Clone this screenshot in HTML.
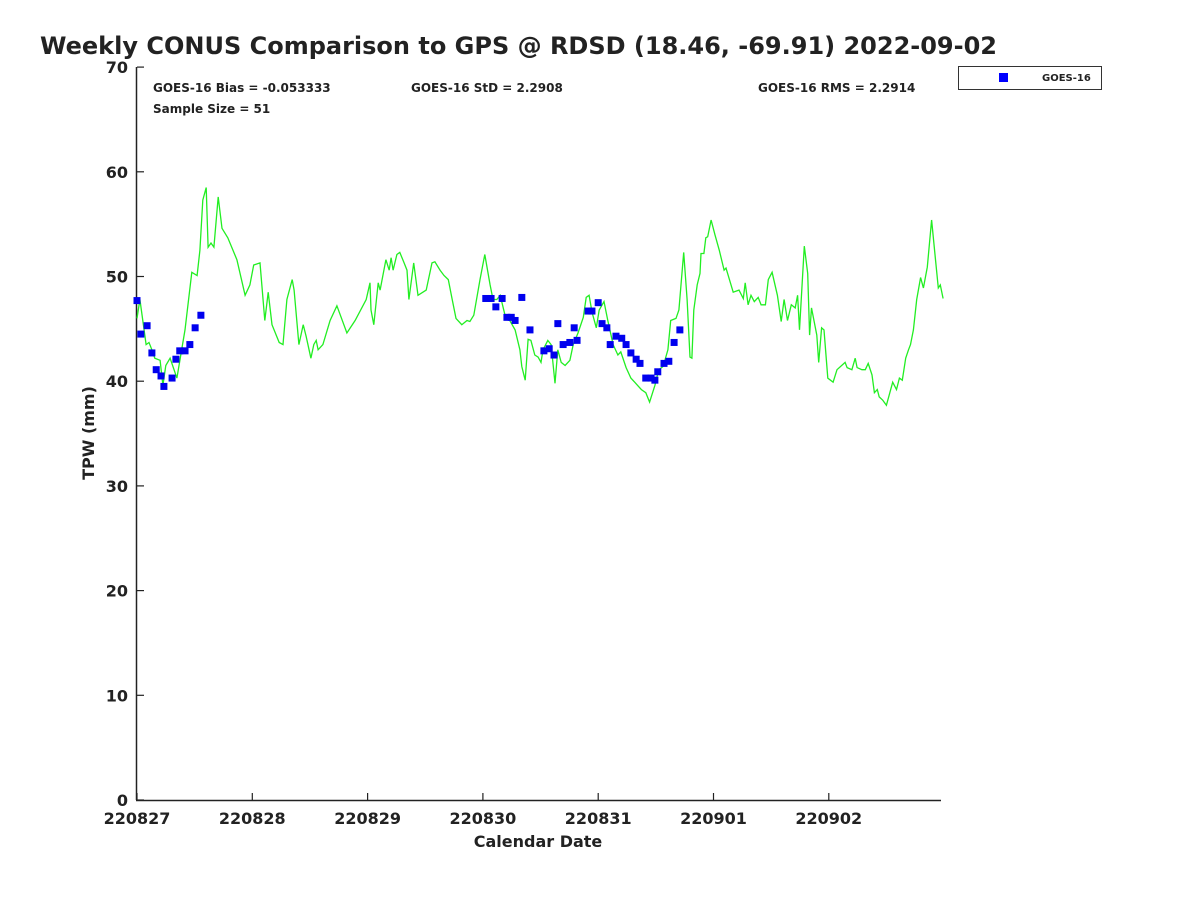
<!DOCTYPE html>
<html><head><meta charset="utf-8"><style>
body{margin:0;background:#fff;}
svg text{font-family:"DejaVu Sans","Liberation Sans",sans-serif;font-weight:bold;fill:#222;}
</style></head><body>
<svg id="c" width="1200" height="900" xmlns="http://www.w3.org/2000/svg">
<text x="40" y="54" font-size="24" fill="#000">Weekly CONUS Comparison to GPS @ RDSD (18.46, -69.91) 2022-09-02</text>
<text x="153" y="92" font-size="12">GOES-16 Bias = -0.053333</text>
<text x="411" y="92" font-size="12">GOES-16 StD = 2.2908</text>
<text x="758" y="92" font-size="12">GOES-16 RMS = 2.2914</text>
<text x="153" y="113" font-size="12">Sample Size = 51</text>
<g>
<rect x="958.5" y="66.5" width="143" height="23" fill="#fff" stroke="#333"/>
<rect x="999" y="73" width="9" height="9" fill="#0000ff"/>
<text x="1042" y="81" font-size="10">GOES-16</text>
</g>
<text transform="translate(94,433) rotate(-90)" text-anchor="middle" font-size="16">TPW (mm)</text>
<text x="538" y="847" text-anchor="middle" font-size="16">Calendar Date</text>
<g id="axes"></g>
<g id="marks"></g>
</svg>
<script>
const yTicks=[0,10,20,30,40,50,60,70];
const xTickDays=[0,1,2,3,4,5,6];
const xTickLabels=["220827","220828","220829","220830","220831","220901","220902"];
const gpsHours=[0,0.6,1.2,1.9,2.5,3.1,3.7,4.8,5.4,6.0,6.9,8.3,10.0,11.4,12.5,13.1,13.7,14.4,14.8,15.4,16.0,16.9,17.7,18.9,20.8,22.5,23.5,24.3,25.6,26.6,27.3,28.1,29.6,30.4,31.2,32.3,32.7,33.7,34.6,35.2,36.2,36.8,37.3,37.7,38.7,40.2,41.6,43.7,45.4,47.7,48.5,48.7,49.3,50.2,50.6,51.8,52.5,52.9,53.3,54.1,54.7,55.6,56.2,56.6,57.6,58.5,60.2,61.4,62.0,63.1,63.9,64.8,65.6,66.4,67.6,68.7,69.3,70.1,71.4,72.4,73.5,74.1,74.9,75.6,76.6,77.6,78.7,79.7,80.1,80.8,81.4,82.0,82.8,83.5,84.1,84.5,85.5,86.2,87.0,87.6,88.3,89.1,90.1,90.8,91.8,92.9,93.5,94.1,94.7,95.6,96.2,97.2,98.0,99.1,100.1,100.7,101.8,102.8,103.6,104.2,105.0,105.9,106.7,107.8,108.6,109.5,110.5,111.1,112.2,112.8,113.8,114.5,115.1,115.5,115.9,116.6,117.2,117.4,118.0,118.4,118.8,119.5,120.3,121.2,122.2,122.6,124.1,125.3,126.2,126.6,127.2,127.8,128.5,129.3,129.9,130.8,131.4,132.2,133.3,134.1,134.7,135.4,136.2,137.0,137.5,137.9,138.9,139.6,140.0,140.4,141.5,141.9,142.5,143.0,143.8,144.9,145.7,147.4,147.8,148.8,149.5,149.9,150.9,151.6,152.2,153.0,153.5,154.1,154.5,155.2,156.0,157.3,158.1,158.7,159.3,160.0,160.6,161.0,161.6,162.3,163.1,163.7,164.5,165.4,166.2,166.8,167.2,167.8];
const gpsTPW=[46.0,47.8,45.8,43.5,43.7,43.0,42.2,42.0,39.6,41.5,42.2,40.3,44.9,50.4,50.1,52.5,57.3,58.5,52.8,53.2,52.8,57.6,54.6,53.7,51.6,48.2,49.2,51.1,51.3,45.8,48.5,45.4,43.7,43.5,47.8,49.7,48.7,43.5,45.4,44.3,42.2,43.5,43.9,43.0,43.5,45.8,47.2,44.6,45.8,47.8,49.4,46.8,45.4,49.4,48.7,51.6,50.6,51.8,50.6,52.1,52.3,51.3,50.6,47.8,51.3,48.2,48.7,51.3,51.4,50.6,50.1,49.7,47.8,46.0,45.4,45.8,45.7,46.3,49.7,52.1,49.2,47.8,47.8,48.2,46.3,45.8,44.9,43.0,41.4,40.1,44.0,43.9,42.5,42.3,41.8,43.0,43.9,43.5,39.8,43.0,41.8,41.5,42.0,43.5,44.6,46.1,48.0,48.2,46.6,45.1,46.8,47.6,45.8,43.5,42.5,42.8,41.3,40.3,39.9,39.6,39.2,38.9,38.0,39.6,41.1,41.4,43.0,45.8,46.0,46.8,52.3,47.8,42.3,42.2,46.8,49.2,50.3,52.2,52.2,53.7,53.8,55.4,54.0,52.5,50.6,50.8,48.5,48.7,47.9,49.4,47.3,48.2,47.6,48.0,47.3,47.3,49.7,50.4,48.2,45.7,47.8,45.8,47.3,47.0,48.2,44.9,52.9,50.3,44.4,47.0,44.4,41.8,45.1,44.9,40.3,39.9,41.1,41.8,41.3,41.1,42.2,41.3,41.1,41.1,41.7,40.6,38.9,39.2,38.5,38.2,37.7,39.9,39.2,40.3,40.1,42.2,43.0,43.5,44.9,47.8,49.9,48.9,50.9,55.4,51.6,48.9,49.2,47.9];
const goesHours=[0,0.8,2.1,3.1,4.0,5.0,5.6,7.3,8.1,8.9,10.0,11.0,12.1,13.3,72.6,73.7,74.7,76.0,77.0,77.9,78.7,80.1,81.8,84.7,85.8,86.8,87.6,88.7,90.1,91.0,91.6,93.9,94.7,96.0,96.8,97.8,98.5,99.7,100.9,101.8,102.8,103.9,104.7,105.9,107.0,107.8,108.4,109.7,110.7,111.8,113.0];
const goesTPW=[47.7,44.5,45.3,42.7,41.1,40.5,39.5,40.3,42.1,42.9,42.9,43.5,45.1,46.3,47.9,47.9,47.1,47.9,46.1,46.1,45.8,48.0,44.9,42.9,43.1,42.5,45.5,43.5,43.7,45.1,43.9,46.7,46.7,47.5,45.5,45.1,43.5,44.3,44.1,43.5,42.7,42.1,41.7,40.3,40.3,40.1,40.9,41.7,41.9,43.7,44.9];
const NS="http://www.w3.org/2000/svg";
const X0=137,PXD=115.3,Y0=800,PXMM=10.47;
const xs=h=>X0+h/24*PXD, ys=v=>Y0-v*PXMM;
function mk(t,a,p){const e=document.createElementNS(NS,t);for(const k in a)e.setAttribute(k,a[k]);p.appendChild(e);return e;}
const ax=document.getElementById('axes'),mg=document.getElementById('marks');
const yl=mk('line',{x1:136.5,y1:67,x2:136.5,y2:800,stroke:'#222','stroke-width':1.5},ax);


const xl=mk('line',{x1:136,y1:800.5,x2:941,y2:800.5,stroke:'#222','stroke-width':1.5},ax);


yTicks.forEach(v=>{const y=ys(v);
const t=mk('line',{x1:137,y1:y,x2:144,y2:y,stroke:'#222','stroke-width':1.2},ax);


const l=mk('text',{x:128,y:y+6,'text-anchor':'end','font-size':16},ax);l.textContent=v;

});
xTickDays.forEach((d,i)=>{const x=xs(d*24);
const t=mk('line',{x1:x,y1:800,x2:x,y2:793,stroke:'#222','stroke-width':1.2},ax);


const l=mk('text',{x:x,y:824,'text-anchor':'middle','font-size':16},ax);l.textContent=xTickLabels[i];

});
const pts=gpsHours.map((h,i)=>xs(h).toFixed(1)+','+ys(gpsTPW[i]).toFixed(1)).join(' ');
const pl=mk('polyline',{points:pts,fill:'none',stroke:'#22ee22','stroke-width':1.3},mg);


goesHours.forEach((h,i)=>{const r=mk('rect',{x:xs(h)-3.5,y:ys(goesTPW[i])-3.5,width:7,height:7,fill:'#0000ee'},mg);

});
</script>
</body></html>
